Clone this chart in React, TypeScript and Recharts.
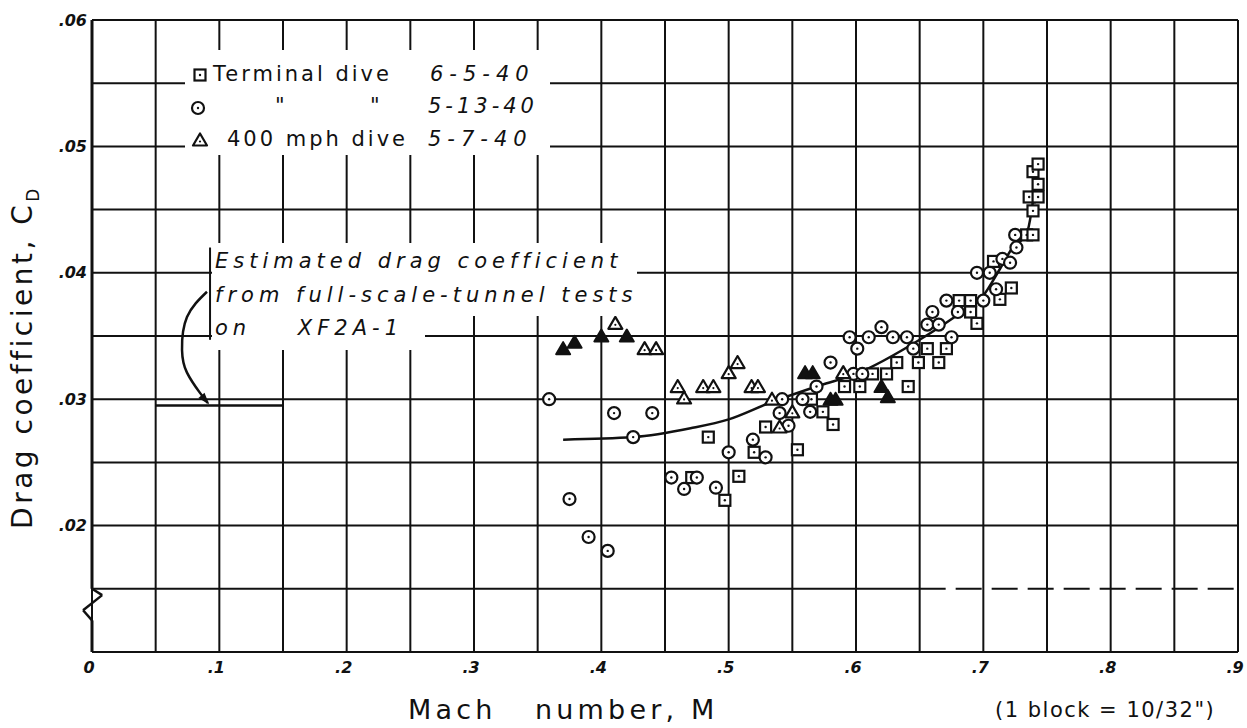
import React from "react"
import { ComposedChart, Scatter, Line, XAxis, YAxis, CartesianGrid, ReferenceLine } from "recharts"

// terminal dive 6-5-40 (squares)
const dive6540 = [
  { x: 0.471, y: 0.0238 }, { x: 0.497, y: 0.022 }, { x: 0.508, y: 0.0239 }, { x: 0.484, y: 0.027 },
  { x: 0.52, y: 0.0258 }, { x: 0.529, y: 0.0278 }, { x: 0.554, y: 0.026 }, { x: 0.565, y: 0.03 },
  { x: 0.574, y: 0.029 }, { x: 0.582, y: 0.028 }, { x: 0.591, y: 0.031 }, { x: 0.603, y: 0.031 },
  { x: 0.613, y: 0.032 }, { x: 0.624, y: 0.032 }, { x: 0.641, y: 0.031 }, { x: 0.632, y: 0.0329 },
  { x: 0.649, y: 0.0329 }, { x: 0.665, y: 0.0329 }, { x: 0.656, y: 0.034 }, { x: 0.671, y: 0.034 },
  { x: 0.681, y: 0.0378 }, { x: 0.69, y: 0.0378 }, { x: 0.69, y: 0.0369 }, { x: 0.695, y: 0.036 },
  { x: 0.713, y: 0.0379 }, { x: 0.722, y: 0.0388 }, { x: 0.708, y: 0.0409 }, { x: 0.734, y: 0.043 },
  { x: 0.739, y: 0.043 }, { x: 0.739, y: 0.0449 }, { x: 0.736, y: 0.046 }, { x: 0.743, y: 0.046 },
  { x: 0.743, y: 0.047 }, { x: 0.739, y: 0.048 }, { x: 0.743, y: 0.0486 },
]

// terminal dive 5-13-40 (circles)
const dive51340 = [
  { x: 0.359, y: 0.03 }, { x: 0.375, y: 0.0221 }, { x: 0.39, y: 0.0191 }, { x: 0.405, y: 0.018 },
  { x: 0.41, y: 0.0289 }, { x: 0.44, y: 0.0289 }, { x: 0.425, y: 0.027 }, { x: 0.455, y: 0.0238 },
  { x: 0.465, y: 0.0229 }, { x: 0.475, y: 0.0238 }, { x: 0.49, y: 0.023 }, { x: 0.5, y: 0.0258 },
  { x: 0.519, y: 0.0268 }, { x: 0.529, y: 0.0254 }, { x: 0.54, y: 0.0289 }, { x: 0.547, y: 0.0279 },
  { x: 0.542, y: 0.03 }, { x: 0.558, y: 0.03 }, { x: 0.564, y: 0.029 }, { x: 0.569, y: 0.031 },
  { x: 0.58, y: 0.0329 }, { x: 0.595, y: 0.0349 }, { x: 0.601, y: 0.034 }, { x: 0.61, y: 0.0349 },
  { x: 0.598, y: 0.032 }, { x: 0.605, y: 0.032 }, { x: 0.62, y: 0.0357 }, { x: 0.629, y: 0.0349 },
  { x: 0.64, y: 0.0349 }, { x: 0.645, y: 0.034 }, { x: 0.656, y: 0.0359 }, { x: 0.66, y: 0.0369 },
  { x: 0.665, y: 0.0359 }, { x: 0.675, y: 0.0349 }, { x: 0.671, y: 0.0378 }, { x: 0.68, y: 0.0369 },
  { x: 0.7, y: 0.0378 }, { x: 0.71, y: 0.0387 }, { x: 0.695, y: 0.04 }, { x: 0.705, y: 0.04 },
  { x: 0.715, y: 0.0411 }, { x: 0.721, y: 0.0408 }, { x: 0.726, y: 0.042 }, { x: 0.725, y: 0.043 },
]

// 400 mph dive 5-7-40 (triangles, open and solid)
const dive5740 = [
  { x: 0.411, y: 0.036 }, { x: 0.434, y: 0.034 }, { x: 0.443, y: 0.034 }, { x: 0.46, y: 0.031 },
  { x: 0.465, y: 0.0301 }, { x: 0.48, y: 0.031 }, { x: 0.488, y: 0.031 }, { x: 0.5, y: 0.0321 },
  { x: 0.507, y: 0.0329 }, { x: 0.518, y: 0.031 }, { x: 0.523, y: 0.031 }, { x: 0.534, y: 0.03 },
  { x: 0.54, y: 0.0278 }, { x: 0.55, y: 0.029 }, { x: 0.59, y: 0.0321 },
]
const dive5740Solid = [
  { x: 0.37, y: 0.034 }, { x: 0.379, y: 0.0345 }, { x: 0.4, y: 0.035 }, { x: 0.42, y: 0.035 },
  { x: 0.56, y: 0.0321 }, { x: 0.566, y: 0.0321 }, { x: 0.58, y: 0.03 }, { x: 0.584, y: 0.03 },
  { x: 0.62, y: 0.031 }, { x: 0.625, y: 0.0302 },
]

// faired curve through the data
const fairedCurve = [
  { x: 0.37, y: 0.0268 }, { x: 0.425, y: 0.027 }, { x: 0.47, y: 0.0277 }, { x: 0.5, y: 0.0284 },
  { x: 0.532, y: 0.0297 }, { x: 0.572, y: 0.0311 }, { x: 0.6, y: 0.032 }, { x: 0.65, y: 0.0347 },
  { x: 0.676, y: 0.0364 }, { x: 0.7, y: 0.0382 }, { x: 0.713, y: 0.0403 }, { x: 0.723, y: 0.042 },
  { x: 0.734, y: 0.0431 }, { x: 0.743, y: 0.0488 },
]

// estimated Cd from full-scale-tunnel tests, and the arrow pointing to it
const estimatedCd = 0.0295
const arrowPath = [
  { x: 0.0903, y: 0.0385 }, { x: 0.0746, y: 0.0365 }, { x: 0.0707, y: 0.0339 },
  { x: 0.0746, y: 0.0321 }, { x: 0.0848, y: 0.0305 }, { x: 0.091, y: 0.0297 },
]

const gridX = [0.05, 0.1, 0.15, 0.2, 0.25, 0.3, 0.35, 0.4, 0.45, 0.5, 0.55, 0.6, 0.65, 0.7, 0.75, 0.8, 0.85, 0.9]
const labelX = [0, 0.1, 0.2, 0.3, 0.4, 0.5, 0.6, 0.7, 0.8, 0.9]
const gridY = [0.01, 0.02, 0.025, 0.03, 0.035, 0.04, 0.045, 0.05, 0.055, 0.06]

const FONT = "'DejaVu Sans', sans-serif"
const INK = "#111"

const Square = (p: any) => (
  <g>
    <rect x={p.cx - 5.5} y={p.cy - 5.5} width={11} height={11} fill="#fff" stroke={INK} strokeWidth={2.2} />
    <circle cx={p.cx} cy={p.cy} r={1.2} fill={INK} />
  </g>
)
const Circle = (p: any) => (
  <g>
    <circle cx={p.cx} cy={p.cy} r={6} fill="#fff" stroke={INK} strokeWidth={2.2} />
    <circle cx={p.cx} cy={p.cy} r={1.2} fill={INK} />
  </g>
)
const Triangle = (p: any) => (
  <g>
    <polygon points={`${p.cx},${p.cy - 6.5} ${p.cx - 7},${p.cy + 5.5} ${p.cx + 7},${p.cy + 5.5}`} fill="#fff" stroke={INK} strokeWidth={2.2} strokeLinejoin="round" />
    <circle cx={p.cx} cy={p.cy + 1.5} r={1.1} fill={INK} />
  </g>
)
const SolidTriangle = (p: any) => (
  <polygon points={`${p.cx},${p.cy - 6.5} ${p.cx - 7},${p.cy + 5.5} ${p.cx + 7},${p.cy + 5.5}`} fill={INK} stroke={INK} strokeWidth={2} strokeLinejoin="round" />
)

const ArrowHead = (p: any) => {
  if (p.index !== arrowPath.length - 1) return <g key={p.index} />
  const { cx, cy } = p
  return (
    <g key={p.index} transform={`rotate(50 ${cx} ${cy})`}>
      <polygon points={`${cx + 2},${cy} ${cx - 10},${cy - 4} ${cx - 10},${cy + 4}`} fill={INK} />
    </g>
  )
}

const fmtY = (v: number) => {
  const c = v * 100
  if (v < 0.015 || Math.abs(c - Math.round(c)) > 1e-6) return ""
  return ".0" + Math.round(c)
}
const fmtX = (v: number) => (v === 0 ? "0" : "." + Math.round(v * 10))

const tickStyle = { fontSize: 16, fontStyle: "italic", fontWeight: 700, fill: INK, fontFamily: FONT }

const text = (left: number, top: number, s: string, extra: React.CSSProperties = {}) => (
  <span style={{ position: "absolute", left, top, whiteSpace: "pre", lineHeight: "20px", ...extra }}>{s}</span>
)

export default function App() {
  return (
    <div style={{ position: "absolute", left: 0, top: 0, width: 1247, height: 728, background: "#fff", fontFamily: FONT, color: INK }}>
      <ComposedChart width={1247} height={728} margin={{ top: 20, right: 9, bottom: 46, left: 32 }}>
        <CartesianGrid stroke={INK} strokeWidth={2} />
        <XAxis xAxisId={0} dataKey="x" type="number" domain={[0, 0.9]} ticks={gridX} allowDataOverflow hide height={0} />
        <XAxis xAxisId="lab" dataKey="x" type="number" domain={[0, 0.9]} ticks={labelX} tickFormatter={fmtX} allowDataOverflow
          axisLine={false} tickLine={false} tickSize={0} tickMargin={10} height={30} tick={{ ...tickStyle, dx: -3 }} interval={0} />
        <YAxis dataKey="y" type="number" domain={[0.01, 0.06]} ticks={gridY} tickFormatter={fmtY} allowDataOverflow
          axisLine={false} tickLine={false} tickSize={0} tickMargin={5} width={60} tick={tickStyle} interval={0} />

        {/* left axis with break */}
        <ReferenceLine segment={[{ x: 0, y: 0.06 }, { x: 0, y: 0.015 }]} stroke={INK} strokeWidth={3} ifOverflow="visible" />
        <ReferenceLine segment={[{ x: 0, y: 0.015 }, { x: 0.008, y: 0.0145 }]} stroke={INK} strokeWidth={2.5} ifOverflow="visible" />
        <ReferenceLine segment={[{ x: 0.008, y: 0.0145 }, { x: -0.007, y: 0.0133 }]} stroke={INK} strokeWidth={2.5} ifOverflow="visible" />
        <ReferenceLine segment={[{ x: -0.007, y: 0.0133 }, { x: 0, y: 0.0125 }]} stroke={INK} strokeWidth={2.5} ifOverflow="visible" />
        <ReferenceLine segment={[{ x: 0, y: 0.0125 }, { x: 0, y: 0.01 }]} stroke={INK} strokeWidth={3} ifOverflow="visible" />
        {/* .015 line, dashed at right */}
        <ReferenceLine segment={[{ x: 0, y: 0.015 }, { x: 0.65, y: 0.015 }]} stroke={INK} strokeWidth={2} />
        <ReferenceLine segment={[{ x: 0.65, y: 0.015 }, { x: 0.9, y: 0.015 }]} stroke={INK} strokeWidth={2} strokeDasharray="26 10" />

        {/* full-scale-tunnel estimate */}
        <ReferenceLine segment={[{ x: 0.05, y: estimatedCd }, { x: 0.15, y: estimatedCd }]} stroke={INK} strokeWidth={2.5} />
        <ReferenceLine segment={[{ x: 0.0927, y: 0.042 }, { x: 0.0927, y: 0.0347 }]} stroke={INK} strokeWidth={2} />
        <Line xAxisId="lab" data={arrowPath} dataKey="y" type="natural" stroke={INK} strokeWidth={2.5} dot={ArrowHead} isAnimationActive={false} />

        <Line data={fairedCurve} dataKey="y" type="monotone" stroke={INK} strokeWidth={2.5} dot={false} isAnimationActive={false} />
        <Scatter data={dive6540} dataKey="y" shape={Square} isAnimationActive={false} />
        <Scatter data={dive51340} dataKey="y" shape={Circle} isAnimationActive={false} />
        <Scatter data={dive5740} dataKey="y" shape={Triangle} isAnimationActive={false} />
        <Scatter data={dive5740Solid} dataKey="y" shape={SolidTriangle} isAnimationActive={false} />
      </ComposedChart>

      {/* legend */}
      <div style={{ position: "absolute", left: 185, top: 50, width: 365, height: 105, background: "#fff", fontSize: 21, letterSpacing: 3 }}>
        <svg style={{ position: "absolute", left: 0, top: 0 }} width={40} height={105}>
          <Square cx={15} cy={25} />
          <Circle cx={13} cy={58} />
          <Triangle cx={15} cy={90} />
        </svg>
        {text(28, 14, "Terminal dive")}
        {text(245, 14, "6-5-40", { fontStyle: "italic", letterSpacing: 6 })}
        {text(90, 46, "\"")}
        {text(185, 46, "\"")}
        {text(243, 46, "5-13-40", { fontStyle: "italic", letterSpacing: 4 })}
        {text(42, 79, "400 mph dive")}
        {text(243, 79, "5-7-40", { fontStyle: "italic", letterSpacing: 6 })}
      </div>

      {/* annotation */}
      <div style={{ position: "absolute", left: 212, top: 243, width: 425, height: 73, background: "#fff" }} />
      <div style={{ position: "absolute", left: 212, top: 316, width: 213, height: 34, background: "#fff" }} />
      <div style={{ position: "absolute", left: 0, top: 0, fontSize: 21, letterSpacing: 5, fontStyle: "italic" }}>
        {text(215, 251, "Estimated drag coefficient")}
        {text(215, 285, "from full-scale-tunnel tests")}
        {text(215, 318, "on    XF2A-1")}
      </div>

      {/* axis titles */}
      <div style={{ position: "absolute", left: 23 - 200, top: 357 - 18, width: 400, height: 36, lineHeight: "36px", textAlign: "center",
        transform: "rotate(-90deg)", fontSize: 28, letterSpacing: 3.5, whiteSpace: "pre" }}>
        Drag coefficient, C<sub style={{ fontSize: 17 }}>D</sub>
      </div>
      {text(408, 695, "Mach   number, M", { fontSize: 27, letterSpacing: 4.2, lineHeight: "30px" })}
      {text(995, 697, "(1 block = 10/32\")", { fontSize: 21, letterSpacing: 1.5, lineHeight: "26px" })}
    </div>
  )
}
